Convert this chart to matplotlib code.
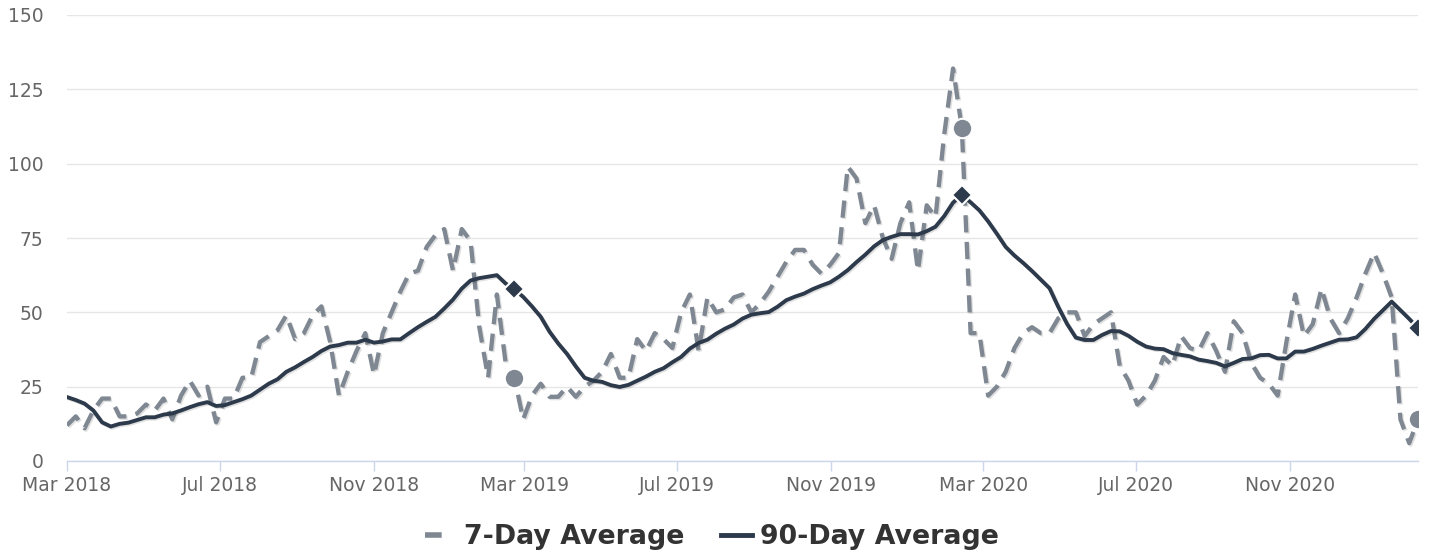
import matplotlib
matplotlib.use("Agg")
import matplotlib.pyplot as plt
import matplotlib.dates as mdates
import matplotlib.patheffects as pe
from matplotlib.lines import Line2D
import pandas as pd

start_date = "2018-03-01"
n_weeks = 155

avg7 = [12, 15, 11, 17, 21, 21, 15, 15, 16, 19, 17, 21, 14, 22, 27, 22, 25, 13, 21, 21,
        28, 28, 40, 42, 44, 49, 41, 43, 49, 52, 40, 22, 30, 37, 43, 29, 43, 50, 57, 63,
        64, 72, 76, 78, 64, 78, 74, 45, 28, 56, 33, 28, 14, 22, 26, 21.6, 21.6, 25, 21.6, 25,
        27, 30, 36, 28, 28, 41, 37, 43, 41, 38, 50, 56, 37, 55, 50, 51, 55, 56, 50, 53,
        57, 62, 67, 71, 71, 66, 63, 66, 70, 99, 95, 80, 86, 75, 68, 80, 87, 64, 86, 82,
        110, 132, 112, 43, 43, 22, 25, 30, 38, 43, 45, 43, 43, 48, 50, 50, 42, 46, 48, 50,
        32, 27, 19, 22, 27, 35, 32, 42, 38, 37, 43, 37, 30, 47, 43, 33, 28, 26, 22, 40,
        56, 42, 46, 58, 48, 43, 48, 55, 63, 70, 63, 55, 14, 6, 14]

avg90 = [21.5, 20.5, 19.3, 17, 13, 11.6, 12.5, 12.9, 13.8, 14.7, 14.7, 15.6, 16, 17, 18.1, 19.1, 19.8, 18.5, 18.8, 19.8,
         20.8, 22, 24, 26, 27.5, 30, 31.5, 33.3, 35, 37, 38.5, 39, 39.8, 39.8, 40.8, 39.8, 40.2, 40.9, 40.9, 43,
         45, 46.8, 48.5, 51.3, 54.3, 58, 60.7, 61.5, 62, 62.5, 59.7, 57.7, 55.2, 52, 48.5, 43.5, 39.5, 36, 31.8, 28,
         27, 26.6, 25.5, 24.9, 25.6, 27, 28.4, 30, 31.2, 33.2, 35, 37.8, 39.7, 40.8, 42.8, 44.5, 45.9, 47.9, 49.2, 49.7,
         50.1, 51.9, 54.1, 55.3, 56.3, 57.8, 59, 60.1, 62, 64.2, 66.9, 69.4, 72.2, 74.3, 75.4, 76.3, 76.3, 76.2, 77.3, 78.8,
         82.4, 86.9, 89.5, 87, 84.3, 80.6, 76.4, 72, 69.1, 66.6, 63.9, 61, 58.1, 51.8, 46.1, 41.5, 40.7, 40.7, 42.4, 43.7,
         43.6, 42.1, 40.1, 38.5, 37.8, 37.6, 36.3, 35.7, 35.2, 34.1, 33.6, 33, 31.8, 33, 34.3, 34.5, 35.6, 35.7, 34.5, 34.5,
         36.8, 36.8, 37.7, 38.8, 39.8, 40.8, 40.9, 41.6, 44.4, 47.8, 50.7, 53.6, 50.7, 47.8, 44.7]

highlight_idx = [51, 102, 154]

series_names = ["7-Day Average", "90-Day Average"]
y_ticks = [0, 25, 50, 75, 100, 125, 150]

dates = pd.date_range(start_date, periods=n_weeks, freq="7D")

c7 = "#7f8892"
c90 = "#2d3a4b"

fig = plt.figure(figsize=(14.33, 5.54), dpi=100)
ax = fig.add_axes([67 / 1433, (554 - 461) / 554, (1418 - 67) / 1433, (461 - 15) / 554])

shadow = [pe.SimpleLineShadow(offset=(1, -1), alpha=0.12, shadow_color="black"), pe.Normal()]

ax.plot(dates, avg7, color=c7, lw=3.1, linestyle=(0, (4, 2.2)), zorder=3,
        path_effects=shadow, dash_capstyle="butt")
ax.plot(dates, avg90, color=c90, lw=2.8, zorder=4, path_effects=shadow)

hd = dates[highlight_idx]
ax.plot(hd, [avg7[i] for i in highlight_idx], linestyle="none", marker="o", ms=14,
        mfc=c7, mec="white", mew=1.5, zorder=5)
ax.plot(hd, [avg90[i] for i in highlight_idx], linestyle="none", marker="D", ms=10,
        mfc=c90, mec="white", mew=1.5, zorder=6)

ax.set_ylim(0, 150)
ax.set_xlim(dates[0], dates[-1])
ax.set_yticks(y_ticks)
ax.yaxis.grid(True, color="#e6e6e6", lw=1)
ax.set_axisbelow(True)
for s in ["top", "right", "left"]:
    ax.spines[s].set_visible(False)
ax.spines["bottom"].set_color("#ccd6eb")
ax.spines["bottom"].set_linewidth(1)

ax.xaxis.set_major_locator(mdates.MonthLocator(bymonth=[3, 7, 11]))
ax.xaxis.set_major_formatter(mdates.DateFormatter("%b %Y"))
ax.tick_params(axis="x", colors="#ccd6eb", length=7, width=1, pad=4, labelcolor="#666666", labelsize=13.5)
ax.tick_params(axis="y", length=0, pad=17, labelcolor="#666666", labelsize=13.5)
for lbl in ax.get_yticklabels():
    lbl.set_horizontalalignment("right")

handles = [Line2D([0], [0], color=c7, lw=4, linestyle=(0, (3.0, 10)), dash_capstyle="butt"),
           Line2D([0], [0], color=c90, lw=3.5)]
leg = fig.legend(handles, series_names, loc="center", bbox_to_anchor=(712 / 1433, 17 / 554), ncol=2,
                 frameon=False, handlelength=1.15, handletextpad=0.3, columnspacing=1.35,
                 prop={"weight": "bold", "size": 19.3})
for t in leg.get_texts():
    t.set_color("#333333")

fig.savefig("out.png", dpi=100)
